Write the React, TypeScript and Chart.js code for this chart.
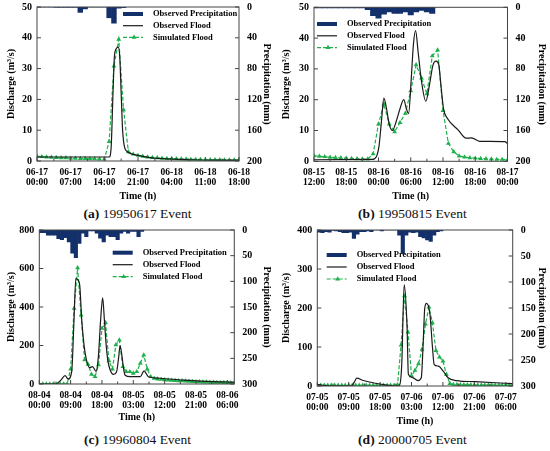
import React, { useEffect, useRef } from "react";
import { Chart, registerables } from "chart.js";

Chart.register(...registerables);

const SERIF = "'Liberation Serif', 'Times New Roman', serif";
const NAVY = "#13306b";
const GREEN = "#1fb04b";

// ---- (a) 19950617 event, hourly from 06-17 00:00 ----
const ticksA = ["06-17 00:00", "06-17 07:00", "06-17 14:00", "06-17 21:00", "06-18 04:00", "06-18 11:00", "06-18 18:00"];
const precipA = [0, 0, 0, 0, 0.4, 0.4, 0.4, 0.4, 0.4, 7, 2.5, 0, 0, 0, 0, 14, 21, 1.5, 0.8];
const simA = [
  1.5, 1.4, 1.3, 1.2, 1.1, 1.0, 1.0, 0.9, 0.9, 0.8, 0.8, 0.7, 0.7, 0.6, 0.6,
  6.3, 30.8, 39.5, 16.6, 3.0, 2.2, 1.8, 1.5,
  1.3, 1.1, 1.0, 0.9, 0.8, 0.8, 0.7, 0.6, 0.6, 0.5, 0.5, 0.5, 0.4, 0.4, 0.4, 0.4, 0.3, 0.3, 0.3, 0.3,
];
const obsTimeA = [0, 15.0, 15.4, 15.8, 16.1, 16.5, 16.9, 17.2, 17.5, 17.8, 18.2, 18.8, 19.5, 20.5, 22, 24, 27, 32, 42];
const obsFlowA = [1.3, 1.3, 4, 22, 34, 36.5, 37, 34, 22, 10, 4.5, 3, 2.4, 2, 1.5, 1.0, 0.7, 0.4, 0.3];

// ---- (b) 19950815 event, hourly from 08-15 12:00 ----
const ticksB = ["08-15 12:00", "08-15 18:00", "08-16 00:00", "08-16 06:00", "08-16 12:00", "08-16 18:00", "08-17 00:00"];
const precipB = [0.8, 0.8, 0.8, 0.8, 0.8, 0.8, 0.8, 0.8, 0.8, 0.8, 3, 11, 14, 9, 6, 8, 8, 6, 10, 6, 4, 6, 8];
const simB = [
  1.8, 1.6, 1.5, 1.3, 1.2, 1.1, 1.0, 0.9, 0.8, 0.7, 0.7,
  2.4, 12.1, 18.6, 12.1, 9.6, 12.6, 15.6, 22.9, 31.3, 27, 21.9, 34.2, 36.1, 16.5, 5.8, 3.1, 1.7,
  1.4, 1.1, 1.0, 0.9, 0.8, 0.7, 0.6, 0.6, 0.5,
];
const obsTimeB = [
  0, 10.8, 11.6, 12.1, 12.5, 13.0, 13.5, 14.0, 14.6, 15.3, 15.9, 16.7, 17.2, 17.6, 18.1, 18.5, 18.9,
  19.4, 20.0, 20.8, 21.5, 22.1, 22.7, 23.2, 23.6, 24.1, 24.8, 26.8, 28.3, 29.3, 30.8, 35.5, 36,
];
const obsFlowB = [
  0.5, 0.6, 1.5, 5, 12, 20.5, 17, 12, 10, 13, 16.5, 20, 17, 15.5, 27, 38, 42.4,
  35, 26, 19.5, 25, 31, 32.5, 31.5, 25, 17, 14, 10.2, 7.5, 7.6, 6.5, 6.4, 5.8,
];

// ---- (c) 19960804 event, hourly from 08-04 00:00 ----
const ticksC = ["08-04 00:00", "08-04 09:00", "08-04 18:00", "08-05 03:00", "08-05 12:00", "08-05 21:00", "08-06 06:00"];
const precipC = [5, 5, 10, 10, 10, 17, 19, 15, 23, 45, 54, 26, 6, 13, 2, 2, 6, 16, 23, 10, 13, 13, 19, 6, 3, 6, 3, 3, 13, 3];
const simC = [
  0, 0, 0, 0, 0, 0, 0, 0, 0,
  78, 393, 604, 358, 125, 102, 50, 38, 99, 289, 319, 120, 78, 203, 228, 90, 64, 64, 55, 64, 107, 150, 78, 38, 29,
  26, 24, 22, 20, 19, 18, 17, 16, 15, 14, 13, 12, 11, 10, 10, 9, 9, 8, 8, 7, 7, 6, 6,
];
const obsTimeC = [
  0, 4.8, 6.2, 7.4, 8.3, 9.3, 9.9, 10.5, 11.1, 11.6, 12.2, 12.8, 13.6, 14.5, 15.3, 16.3, 17.0, 17.6, 18.2,
  18.7, 19.2, 19.7, 20.3, 21.3, 22.2, 22.8, 23.2, 23.7, 24.2, 24.6, 26.1, 29.0, 30.1, 31.3, 34.7, 41.4, 48.1, 56,
];
const obsFlowC = [
  0, 0, 20, 43, 26, 64, 300, 549, 540, 515, 330, 210, 120, 85, 90, 65, 150, 330, 448,
  330, 203, 120, 75, 50, 64, 140, 200, 150, 80, 47, 38, 38, 68, 38, 30, 20, 14, 10,
];

// ---- (d) 20000705 event, hourly from 07-05 00:00 ----
const ticksD = ["07-05 00:00", "07-05 09:00", "07-05 18:00", "07-06 03:00", "07-06 12:00", "07-06 21:00", "07-07 06:00"];
const precipD = [
  4, 5, 3, 4, 1, 2, 3, 5, 5, 4, 16, 8, 3, 3, 2, 3, 0, 0, 2, 0, 0, 0, 0,
  10, 45, 10, 4, 5, 4, 13, 15, 19, 22, 10, 3, 2,
];
const simD = [
  2, 2, 2, 1.8, 1.8, 1.6, 1.6, 1.5, 1.5, 1.5, 1.5, 1.5, 1.5, 1.5, 1.5, 1.5, 1.5, 1.5, 1.5, 1.5, 1.5, 1.5, 1.5,
  3, 105, 231, 138, 26, 40, 57, 94, 159, 202, 162, 91, 74, 64, 30, 6,
  4, 3.5, 3, 3, 3, 2.8, 2.6, 2.5, 2.4, 2.3, 2.2, 2.1, 2, 2, 2, 2, 2, 2,
];
const obsTimeD = [
  0, 2.2, 9.8, 10.6, 11.3, 13.2, 16.6, 19.4, 22.7, 23.6, 24.2, 24.9, 25.7, 26.1, 27.0, 28.9, 29.8, 30.3,
  30.8, 31.3, 32.3, 33.0, 33.5, 34.7, 36.1, 37.5, 39.9, 45.2, 56,
];
const obsFlowD = [
  4, 1, 0, 10, 20, 14, 7, 3, 0, 3, 55, 260, 157, 30, 23, 14, 21, 100,
  200, 212, 183, 100, 55, 51, 38, 21, 14, 11, 6,
];

interface Panel {
  id: string;
  caption: string;
  ox: number;
  oy: number;
  h: number;
  left: number;
  right: number;
  top: number;
  bottom: number;
  capY: number;
  xMax: number;
  xStep: number;
  xLabels: string[];
  yMax: number;
  yStep: number;
  pMax: number;
  pStep: number;
  pOff: number;
  precip: number[];
  sim: number[];
  obsT: number[];
  obsV: number[];
  legend: { x: number; y: number; gap: number };
}

const panels: Panel[] = [
  {
    id: "a", caption: "19950617 Event", ox: 0, oy: 0, h: 204, left: 37, right: 239, top: 7, bottom: 161, capY: 214,
    xMax: 42, xStep: 7, xLabels: ticksA, yMax: 50, yStep: 10, pMax: 200, pStep: 40, pOff: 0,
    precip: precipA, sim: simA, obsT: obsTimeA, obsV: obsFlowA, legend: { x: 123, y: 14, gap: 11.7 },
  },
  {
    id: "b", caption: "19950815 Event", ox: 275, oy: 0, h: 204, left: 39, right: 232.5, top: 7.3, bottom: 161.3, capY: 214,
    xMax: 36, xStep: 6, xLabels: ticksB, yMax: 50, yStep: 10, pMax: 200, pStep: 40, pOff: 0,
    precip: precipB, sim: simB, obsT: obsTimeB, obsV: obsFlowB, legend: { x: 42, y: 24, gap: 11.8 },
  },
  {
    id: "c", caption: "19960804 Event", ox: 0, oy: 225, h: 200, left: 39.3, right: 234.3, top: 5, bottom: 159, capY: 215,
    xMax: 56, xStep: 9, xLabels: ticksC, yMax: 800, yStep: 200, pMax: 300, pStep: 50, pOff: 0.5,
    precip: precipC, sim: simC, obsT: obsTimeC, obsV: obsFlowC, legend: { x: 112.7, y: 27.7, gap: 12 },
  },
  {
    id: "d", caption: "20000705 Event", ox: 275, oy: 225, h: 204, left: 42.3, right: 237.7, top: 5, bottom: 161, capY: 215,
    xMax: 56, xStep: 9, xLabels: ticksD, yMax: 400, yStep: 100, pMax: 300, pStep: 50, pOff: 0.5,
    precip: precipD, sim: simD, obsT: obsTimeD, obsV: obsFlowD, legend: { x: 51.7, y: 30, gap: 12 },
  },
];

// box round the plot area with short inward tick marks
const framePlugin = {
  id: "frame",
  afterDatasetsDraw(chart: any, _args: any, opts: any) {
    const { ctx, chartArea: a, scales } = chart;
    const line = (x1: number, y1: number, x2: number, y2: number) => {
      ctx.beginPath();
      ctx.moveTo(x1, y1);
      ctx.lineTo(x2, y2);
      ctx.stroke();
    };
    ctx.save();
    ctx.strokeStyle = "#444";
    ctx.lineWidth = 1;
    ctx.strokeRect(a.left, a.top, a.right - a.left, a.bottom - a.top);
    const x = scales.x;
    const minor = opts.step / 2;
    for (let v = 0; v <= x.max + 1e-6; v += minor) {
      const px = x.getPixelForValue(v);
      const major = Math.abs(v / opts.step - Math.round(v / opts.step)) < 1e-6;
      line(px, a.bottom, px, a.bottom - (major ? 4 : 2.5));
    }
    scales.y.ticks.forEach((t: any) => {
      const py = scales.y.getPixelForValue(t.value);
      line(a.left, py, a.left + 4, py);
    });
    scales.y1.ticks.forEach((t: any) => {
      const py = scales.y1.getPixelForValue(t.value);
      line(a.right, py, a.right - 4, py);
    });
    ctx.restore();
  },
};

// legend drawn inside the plot
const legendPlugin = {
  id: "insideLegend",
  afterDraw(chart: any, _args: any, opts: any) {
    const { ctx } = chart;
    ctx.save();
    ctx.font = `bold 8.5px ${SERIF}`;
    ctx.textBaseline = "middle";
    chart.data.datasets.forEach((ds: any, i: number) => {
      const x = opts.x;
      const y = opts.y + i * opts.gap;
      if (ds.type === "bar") {
        ctx.fillStyle = NAVY;
        ctx.fillRect(x, y - 2, 20, 4);
      } else {
        ctx.strokeStyle = ds.borderColor;
        ctx.lineWidth = ds.borderWidth;
        ctx.setLineDash(ds.borderDash || []);
        ctx.beginPath();
        ctx.moveTo(x, y);
        ctx.lineTo(x + 20, y);
        ctx.stroke();
        ctx.setLineDash([]);
        if (ds.pointRadius) {
          const r = ds.pointRadius;
          const cx = x + 11;
          ctx.fillStyle = ds.pointBackgroundColor;
          ctx.beginPath();
          ctx.moveTo(cx, y - r);
          ctx.lineTo(cx - r * 0.87, y + r * 0.5);
          ctx.lineTo(cx + r * 0.87, y + r * 0.5);
          ctx.closePath();
          ctx.fill();
        }
      }
      ctx.fillStyle = "#000";
      ctx.fillText(ds.label, x + 30, y);
    });
    ctx.restore();
  },
};

const tickFont = { family: SERIF, size: 10, weight: "bold" as const };
const titleFont = { family: SERIF, size: 10, weight: "bold" as const };

function buildConfig(p: Panel): any {
  return {
    type: "bar",
    data: {
      datasets: [
        {
          type: "bar",
          label: "Observed Precipitation",
          yAxisID: "y1",
          data: p.precip.map((v, i) => ({ x: i + p.pOff, y: v })),
          backgroundColor: NAVY,
          borderWidth: 0,
          barPercentage: 1,
          categoryPercentage: 1,
        },
        {
          type: "line",
          label: "Observed Flood",
          yAxisID: "y",
          data: p.obsT.map((t, i) => ({ x: t, y: p.obsV[i] })),
          borderColor: "#1a1a1a",
          borderWidth: 1.2,
          pointRadius: 0,
          tension: 0.4,
          cubicInterpolationMode: "monotone",
        },
        {
          type: "line",
          label: "Simulated Flood",
          yAxisID: "y",
          data: p.sim.map((v, i) => ({ x: i, y: v })),
          borderColor: GREEN,
          borderWidth: 1.2,
          borderDash: [4, 2],
          pointStyle: "triangle",
          pointRadius: 2.8,
          pointBackgroundColor: GREEN,
          pointBorderColor: GREEN,
          pointBorderWidth: 0,
        },
      ],
    },
    options: {
      responsive: true,
      maintainAspectRatio: false,
      animation: false,
      layout: { padding: { top: p.top, left: 0, right: 0, bottom: 0 } },
      plugins: {
        legend: { display: false },
        tooltip: { enabled: false },
        insideLegend: p.legend,
        frame: { step: p.xStep },
      },
      scales: {
        x: {
          type: "linear",
          min: 0,
          max: p.xMax,
          offset: false,
          grid: { display: false, drawTicks: false },
          border: { display: false },
          afterBuildTicks: (s: any) => {
            s.ticks = p.xLabels.map((_, i) => ({ value: i * p.xStep }));
          },
          afterFit: (s: any) => {
            s.height = p.h - p.bottom;
            s.paddingLeft = 0;
            s.paddingRight = 0;
          },
          ticks: {
            autoSkip: false,
            maxRotation: 0,
            minRotation: 0,
            padding: 6,
            color: "#000",
            font: { ...tickFont, size: 9.5, lineHeight: 1.1 },
            callback: (v: any) => {
              const lab = p.xLabels[Math.round(Number(v) / p.xStep)];
              return lab ? lab.split(" ") : "";
            },
          },
          title: { display: true, text: "Time (h)", color: "#000", font: titleFont, padding: { top: 0, bottom: 2 } },
        },
        y: {
          type: "linear",
          position: "left",
          min: 0,
          max: p.yMax,
          grid: { display: false, drawTicks: false },
          border: { display: false },
          ticks: { stepSize: p.yStep, padding: 5, color: "#000", font: tickFont },
          afterFit: (s: any) => {
            s.width = p.left;
            s.paddingTop = 0;
            s.paddingBottom = 0;
          },
          title: { display: true, text: "Discharge (m³/s)", color: "#000", font: titleFont, padding: { top: 5, bottom: 0 } },
        },
        y1: {
          type: "linear",
          position: "right",
          reverse: true,
          min: 0,
          max: p.pMax,
          grid: { display: false, drawTicks: false },
          border: { display: false },
          ticks: { stepSize: p.pStep, padding: 8, color: "#000", font: tickFont },
          afterFit: (s: any) => {
            s.width = 275 - p.right;
            s.paddingTop = 0;
            s.paddingBottom = 0;
          },
          title: { display: true, text: "Precipitation (mm)", color: "#000", font: titleFont, padding: { top: 2, bottom: 0 } },
        },
      },
    },
    plugins: [framePlugin, legendPlugin],
  };
}

const PanelChart: React.FC<{ p: Panel }> = ({ p }) => {
  const canvasRef = useRef<HTMLCanvasElement>(null);

  useEffect(() => {
    if (!canvasRef.current) return;
    const chart = new Chart(canvasRef.current, buildConfig(p));
    return () => {
      chart.destroy();
    };
  }, [p]);

  return (
    <div style={{ position: "absolute", left: p.ox, top: p.oy, width: 275, height: 225 }}>
      <div style={{ position: "relative", width: 275, height: p.h }}>
        <canvas ref={canvasRef} />
      </div>
      <div
        style={{
          position: "absolute",
          left: 0,
          width: 275,
          top: p.capY - 8,
          lineHeight: "16px",
          textAlign: "center",
          fontFamily: SERIF,
          fontSize: 13.5,
          color: "#111",
        }}
      >
        <b>({p.id})</b> {p.caption}
      </div>
    </div>
  );
};

export default function App() {
  return (
    <div style={{ position: "absolute", left: 0, top: 0, width: 550, height: 451, background: "#fff" }}>
      {panels.map((p) => (
        <PanelChart key={p.id} p={p} />
      ))}
    </div>
  );
}
